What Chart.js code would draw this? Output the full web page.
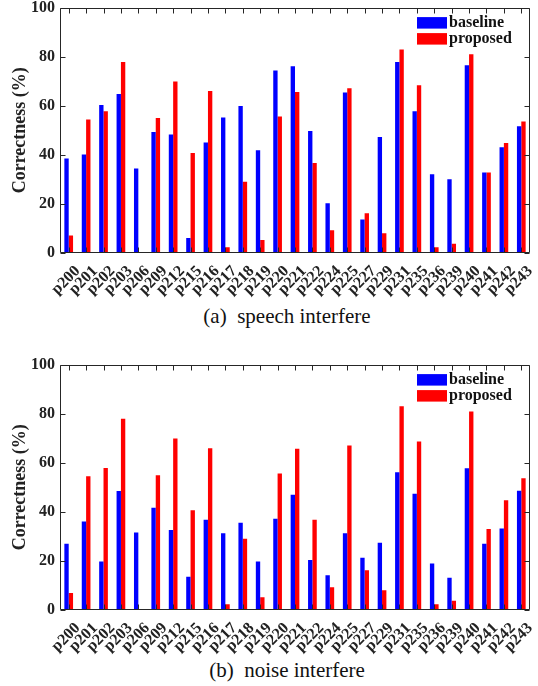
<!DOCTYPE html>
<html><head><meta charset="utf-8">
<script src="https://cdn.jsdelivr.net/npm/chart.js@4"></script>
<style>
html,body{margin:0;padding:0;background:#fff;width:538px;height:686px;overflow:hidden;position:relative;}
.wrap{position:absolute;left:0;width:538px;}
.cap{position:absolute;left:0;width:574px;text-align:center;font-family:"Liberation Serif","DejaVu Serif","Times New Roman",serif;font-size:21px;line-height:24px;color:#111;}
</style></head><body>
<div class="wrap" id="w1" style="top:-7px;height:308px;"><canvas id="c1" width="538" height="308"></canvas></div>
<div class="cap" style="top:304px;">(a)&nbsp; speech interfere</div>
<div class="wrap" id="w2" style="top:350px;height:308px;"><canvas id="c2" width="538" height="308"></canvas></div>
<div class="cap" style="top:658px;">(b)&nbsp; noise interfere</div>
<script>
const categories = ["p200","p201","p202","p203","p206","p209","p212","p215","p216","p217","p218","p219","p220","p221","p222","p224","p225","p227","p229","p231","p235","p236","p239","p240","p241","p242","p243"];
const speechBaseline = [38.5,40.1,60.3,64.8,34.4,49.3,48.3,6.1,45.0,55.2,59.9,41.9,74.4,76.1,49.7,20.3,65.4,13.7,47.3,77.8,57.8,32.1,30.1,76.5,32.8,43.1,51.6];
const speechProposed = [7.1,54.4,57.8,77.8,0,55.0,69.9,40.7,66.0,2.3,29.0,5.3,55.6,65.6,36.7,9.3,67.1,16.2,8.0,82.9,68.4,2.3,3.8,81.0,32.8,44.8,53.6];
const noiseBaseline = [27.0,36.1,19.8,48.5,31.6,41.7,32.6,13.6,36.8,31.3,35.6,19.8,37.2,47.0,20.4,14.2,31.3,21.3,27.4,56.1,47.4,18.9,13.1,57.8,27.0,33.2,48.6];
const noiseProposed = [6.9,54.5,57.9,77.9,0,54.9,69.9,40.6,65.9,2.3,29.0,5.2,55.6,65.7,36.8,9.3,67.0,16.2,8.0,83.0,68.7,2.3,3.8,80.9,33.0,44.7,53.7];
const yTicks = [0,20,40,60,80,100];
const seriesNames = ["baseline","proposed"];
const seriesColors = ["#0000ff","#ff0000"];

const serif = '"Liberation Serif","DejaVu Serif","Times New Roman",serif';

const boxPlugin = {
  id:'matlabBox',
  afterDraw(chart){
    const ctx = chart.ctx, a = chart.chartArea;
    const xs = chart.scales.x, ys = chart.scales.y;
    ctx.save();
    ctx.strokeStyle = '#262626';
    ctx.lineWidth = 1;
    ctx.beginPath();
    const L = Math.round(a.left)+0.5, R = Math.round(a.right)-0.5, T = Math.round(a.top)+0.5, B = Math.round(a.bottom)-0.5;
    ctx.rect(L,T,R-L,B-T);
    const tl = 5;
    xs.ticks.forEach((t,i)=>{
      const x = Math.round(xs.getPixelForTick(i))+0.5;
      ctx.moveTo(x,B); ctx.lineTo(x,B-tl);
      ctx.moveTo(x,T); ctx.lineTo(x,T+tl);
    });
    ys.ticks.forEach((t,i)=>{
      const y = Math.round(ys.getPixelForTick(i))+0.5;
      ctx.moveTo(L,y); ctx.lineTo(L+tl,y);
      ctx.moveTo(R,y); ctx.lineTo(R-tl,y);
    });
    ctx.stroke();
    // legend
    const bx = a.right - 113, by = a.top + 9.5;
    ctx.font = 'bold 16px ' + serif;
    ctx.textBaseline = 'middle';
    ctx.textAlign = 'left';
    chart.data.datasets.forEach((ds,i)=>{
      const y = by + i*16;
      ctx.fillStyle = ds.backgroundColor;
      ctx.fillRect(bx, y, 30, 11.5);
      ctx.fillStyle = '#111';
      ctx.fillText(ds.label, bx + 32, y + 6);
    });
    ctx.restore();
  }
};

function makeChart(id, base, prop){
  return new Chart(document.getElementById(id), {
    type:'bar',
    data:{
      labels: categories,
      datasets:[
        {label:seriesNames[0], data:base, backgroundColor:seriesColors[0], barPercentage:1, categoryPercentage:0.5},
        {label:seriesNames[1], data:prop, backgroundColor:seriesColors[1], barPercentage:1, categoryPercentage:0.5}
      ]
    },
    options:{
      responsive:false, animation:false, devicePixelRatio:1,
      layout:{padding:{left:0,right:8,top:0,bottom:0}},
      plugins:{legend:{display:false}, tooltip:{enabled:false}},
      scales:{
        x:{
          grid:{display:false, drawTicks:false},
          border:{display:false},
          ticks:{minRotation:45, maxRotation:45, autoSkip:false, padding:9, labelOffset:9, color:'#222', font:{family:serif, weight:'bold', size:16}},
          afterFit(s){ s.height = 48; s.paddingRight = 0; s.paddingLeft = 0; }
        },
        y:{
          min:0, max:100,
          afterBuildTicks(s){ s.ticks = yTicks.map(v=>({value:v})); },
          grid:{display:false, drawTicks:false},
          border:{display:false},
          ticks:{padding:5, color:'#222', font:{family:serif, weight:'bold', size:16}},
          title:{display:true, text:'Correctness (%)', color:'#222', padding:{top:10,bottom:0}, font:{family:serif, weight:'bold', size:18}},
          afterFit(s){ s.width = 60; }
        }
      }
    },
    plugins:[boxPlugin]
  });
}
makeChart('c1', speechBaseline, speechProposed);
makeChart('c2', noiseBaseline, noiseProposed);
</script>
</body></html>
